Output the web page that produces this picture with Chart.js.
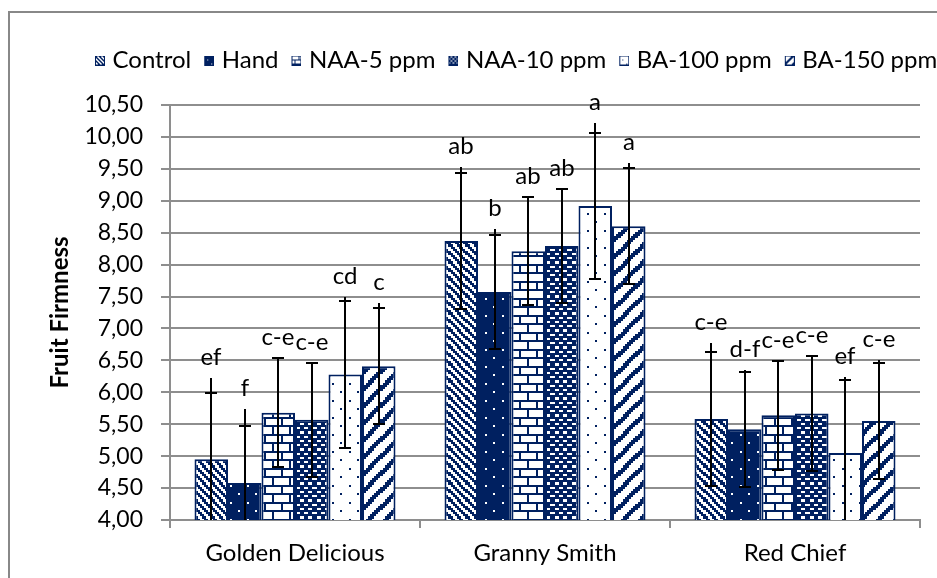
<!DOCTYPE html>
<html><head><meta charset="utf-8">
<script src="https://cdn.jsdelivr.net/npm/chart.js@4.4.1/dist/chart.umd.min.js"></script>
<style>html,body{margin:0;padding:0;background:#fff;}#wrap{width:937px;height:578px;}</style>
</head><body><div id="wrap"><canvas id="c" width="937" height="578"></canvas></div>
<script>
// ---- data ----
const categories = ['Golden Delicious', 'Granny Smith', 'Red Chief'];
const seriesNames = ['Control', 'Hand', 'NAA-5 ppm', 'NAA-10 ppm', 'BA-100 ppm', 'BA-150 ppm'];
const control = [4.95, 8.37, 5.58];
const hand    = [4.58, 7.57, 5.42];
const naa5    = [5.68, 8.21, 5.64];
const naa10   = [5.57, 8.29, 5.67];
const ba100   = [6.28, 8.92, 5.05];
const ba150   = [6.41, 8.60, 5.55];
const controlErr = [1.04, 1.06, 1.05];
const handErr    = [0.89, 0.89, 0.90];
const naa5Err    = [0.85, 0.85, 0.85];
const naa10Err   = [0.89, 0.89, 0.90];
const ba100Err   = [1.15, 1.14, 1.14];
const ba150Err   = [0.91, 0.91, 0.91];
const controlStemTop = [6.22, 9.53, 6.77];
const handStemTop    = [5.74, 8.56, 6.35];
const naa5StemTop    = [null, null, null];
const naa10StemTop   = [null, null, null];
const ba100StemTop   = [7.50, 10.22, 6.24];
const ba150StemTop   = [7.40, 9.59, 6.50];
const controlLetters = ['ef', 'ab', 'c-e'];
const handLetters    = ['f', 'b', 'd-f'];
const naa5Letters    = ['c-e', 'ab', 'c-e'];
const naa10Letters   = ['c-e', 'ab', 'c-e'];
const ba100Letters   = ['cd', 'a', 'ef'];
const ba150Letters   = ['c', 'a', 'c-e'];
const yTickValues = [4.00, 4.50, 5.00, 5.50, 6.00, 6.50, 7.00, 7.50, 8.00, 8.50, 9.00, 9.50, 10.00, 10.50];
const yTitle = 'Fruit Firmness';

// ---- style ----
const NAVY = '#002060';
const GRID = '#8e8e8e';
const FONT = 'Lato';
Chart.defaults.font.family = FONT;

function bits(fn) { const rows = []; for (let r = 0; r < 8; r++) { let s = ''; for (let c = 0; c < 8; c++) s += fn(r, c) ? '1' : '0'; rows.push(s); } return rows; }
const patternBits = {
  dkDnDiag: bits((r, c) => (((c - r) % 4) + 4) % 4 < 2),
  darkDots: bits((r, c) => !((r === 0 && c === 0) || (r === 4 && c === 4))),
  hBrick: ['11111111', '10000000', '10000000', '10000000', '11111111', '00001000', '00001000', '00001000'],
  trellis: ['11111111', '01100110', '11111111', '10011001', '11111111', '01100110', '11111111', '10011001'],
  pct5: bits((r, c) => (r === 0 && c === 0) || (r === 4 && c === 4)),
  wdUpDiag: bits((r, c) => ((c + r) % 8) < 3)
};
const seriesPatterns = ['dkDnDiag', 'darkDots', 'hBrick', 'trellis', 'pct5', 'wdUpDiag'];

function makeTile(rows, size) {
  const cv = document.createElement('canvas'); cv.width = size; cv.height = size;
  const g = cv.getContext('2d'); const u = size / 8;
  g.fillStyle = '#fff'; g.fillRect(0, 0, size, size); g.fillStyle = NAVY;
  for (let r = 0; r < 8; r++) for (let c = 0; c < 8; c++) if (rows[r][c] === '1') {
    const x0 = Math.round(c * u), x1 = Math.round((c + 1) * u), y0 = Math.round(r * u), y1 = Math.round((r + 1) * u);
    g.fillRect(x0, y0, x1 - x0, y1 - y0);
  }
  return cv;
}
const ctx = document.getElementById('c').getContext('2d');
function barPattern(name) { return ctx.createPattern(makeTile(patternBits[name], 17), 'repeat'); }
function legendIcon(name) {
  const cv = document.createElement('canvas'); cv.width = 19; cv.height = 10;
  const g = cv.getContext('2d');
  g.fillStyle = g.createPattern(makeTile(patternBits[name], 8), 'repeat');
  g.fillRect(9, 0, 10, 10);
  g.strokeStyle = NAVY; g.lineWidth = 1; g.strokeRect(9.5, 0.5, 9, 9);
  return cv;
}

const values = [control, hand, naa5, naa10, ba100, ba150];
const errs = [controlErr, handErr, naa5Err, naa10Err, ba100Err, ba150Err];
const stems = [controlStemTop, handStemTop, naa5StemTop, naa10StemTop, ba100StemTop, ba150StemTop];
const letters = [controlLetters, handLetters, naa5Letters, naa10Letters, ba100Letters, ba150Letters];

const datasets = seriesNames.map((name, i) => ({
  label: name, data: values[i], err: errs[i], stem: stems[i], letters: letters[i],
  backgroundColor: barPattern(seriesPatterns[i]), borderColor: NAVY, borderWidth: 2,
  categoryPercentage: 0.804, barPercentage: 1.0
}));
const legendIcons = seriesPatterns.map(legendIcon);

const PAD_LEFT = 82, PAD_TOP = 40, PAD_RIGHT = 17;
const LEGEND_H = 65;

const frame = {
  id: 'frame',
  beforeDraw(chart) {
    const g = chart.ctx; g.save(); g.strokeStyle = '#888'; g.lineWidth = 2;
    g.strokeRect(9, 12, 960, 600); g.restore();
  }
};
const legendFit = {
  id: 'legendFit',
  beforeInit(chart) {
    const orig = chart.legend.fit;
    chart.legend.fit = function () { this.maxWidth = 2000; orig.call(this); this.height = LEGEND_H; };
  },
  beforeDraw(chart) { chart.legend.right = chart.width + 100; }
};
const errorBars = {
  id: 'errorBars',
  afterDatasetsDraw(chart) {
    const g = chart.ctx, area = chart.chartArea, y = chart.scales.y;
    const tops = [];
    g.save();
    g.beginPath(); g.rect(area.left, 0, area.right - area.left, area.bottom); g.clip();
    g.strokeStyle = '#000'; g.lineWidth = 2;
    chart.data.datasets.forEach((ds, i) => {
      chart.getDatasetMeta(i).data.forEach((bar, j) => {
        const v = ds.data[j], e = ds.err[j];
        const x = Math.round(bar.x);
        const hi = Math.round(y.getPixelForValue(v + e));
        const loV = v - e;
        const lo = loV < y.min ? area.bottom : Math.round(y.getPixelForValue(loV));
        const st = ds.stem[j];
        const top = st != null ? Math.min(hi, Math.round(y.getPixelForValue(st))) : hi;
        g.beginPath(); g.moveTo(x, top); g.lineTo(x, lo); g.stroke();
        g.beginPath(); g.moveTo(x - 6, hi); g.lineTo(x + 6, hi); g.stroke();
        if (loV >= y.min) { g.beginPath(); g.moveTo(x - 6, lo); g.lineTo(x + 6, lo); g.stroke(); }
        tops.push([x, top, ds.letters[j]]);
      });
    });
    g.restore();
    g.save();
    g.fillStyle = '#000'; g.font = '24px ' + FONT; g.textAlign = 'center'; g.textBaseline = 'middle';
    tops.forEach(([x, t, s]) => g.fillText(s, x, t - 21));
    g.restore();
  }
};

new Chart(ctx, {
  type: 'bar',
  data: { labels: categories, datasets },
  plugins: [frame, legendFit, errorBars],
  options: {
    responsive: false, animation: false, devicePixelRatio: 1,
    layout: { padding: { left: PAD_LEFT, top: PAD_TOP, right: PAD_RIGHT, bottom: 0 } },
    plugins: {
      tooltip: { enabled: false },
      legend: {
        position: 'top', align: 'start',
        labels: {
          usePointStyle: true, boxWidth: 10, boxHeight: 10, padding: 8.5,
          font: { family: FONT, size: 24 }, color: '#000',
          generateLabels: (chart) => chart.data.datasets.map((ds, i) => ({
            text: ds.label, pointStyle: legendIcons[i], fillStyle: NAVY, strokeStyle: NAVY,
            lineWidth: 0, hidden: false, datasetIndex: i, fontColor: '#000'
          }))
        }
      }
    },
    scales: {
      x: {
        grid: { display: true, drawOnChartArea: false, drawTicks: true, tickLength: 8, color: GRID, lineWidth: 2, offset: true },
        border: { color: GRID, width: 2 },
        ticks: { font: { family: FONT, size: 24 }, color: '#000', padding: 11 },
        afterFit: (s) => { s.height = 58; }
      },
      y: {
        min: 4, max: 10.5,
        afterBuildTicks: (s) => { s.ticks = yTickValues.map(v => ({ value: v })); },
        ticks: { font: { family: FONT, size: 23 }, color: '#000', padding: 18,
          callback: (v) => Number(v).toFixed(2).replace('.', ',') },
        grid: { color: GRID, lineWidth: 2, tickLength: 9, drawTicks: true },
        border: { color: GRID, width: 2 },
        title: { display: true, text: yTitle, color: '#000', font: { family: FONT, size: 24, weight: 'bold' },
          padding: { top: -36.4, bottom: 0 } },
        afterFit: (s) => { s.width = 170 - PAD_LEFT; }
      }
    }
  }
});
</script></body></html>
